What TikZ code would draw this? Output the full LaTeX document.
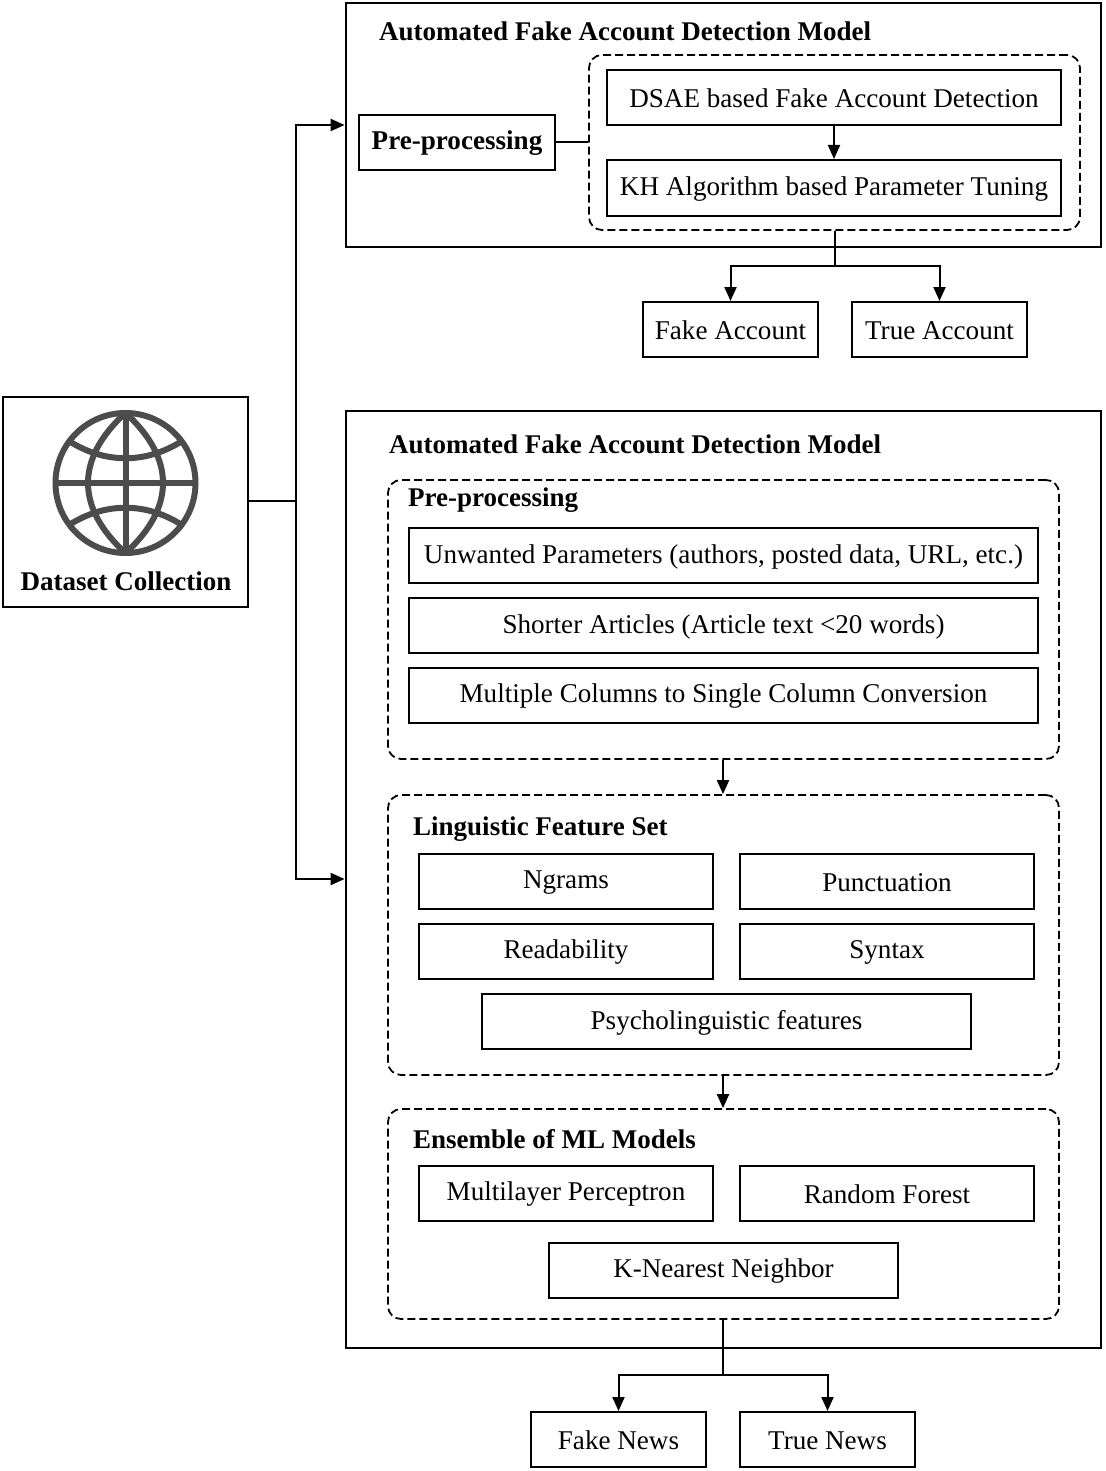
\documentclass[tikz,border=0pt]{standalone}
\usepackage{fontspec}
\setmainfont{Liberation Serif}
\usetikzlibrary{arrows.meta,calc}
\tikzset{
  x=1pt,y=-1pt,
  solidbox/.style={draw=black,line width=2pt,fill=white,inner sep=0pt,align=center,font=\fontsize{27.1}{30}\selectfont},
  outerbox/.style={draw=black,line width=2.8pt,inner sep=0pt},
  dashbox/.style={draw=black,line width=1.8pt,dash pattern=on 8pt off 4pt,rounded corners=13pt,inner sep=0pt},
  title/.style={anchor=west,inner sep=0pt,font=\fontsize{27}{30}\selectfont\bfseries},
  conn/.style={draw=black,line width=2pt},
  arr/.style={conn,-{Triangle[length=14pt,width=12pt]}},
  globeline/.style={draw=black!70,line width=6pt},
}
\newcommand{\bx}[7][solidbox]{%
  \node[#1,minimum width=#5pt-#3pt,minimum height=#6pt-#4pt] (#2) at ({(#3+#5)/2},{(#4+#6)/2}) {\raisebox{-1pt}[\height][\depth]{#7}};}
\begin{document}
\begin{tikzpicture}
\useasboundingbox (0,0) rectangle (1105,1471);
\fill[white] (0,0) rectangle (1105,1471);
% outer frames
\bx[outerbox]{modelA}{346}{3}{1101}{247}{}
\bx[outerbox]{modelB}{346}{411}{1101}{1348}{}
\node[title] (titleA) at (379,31) {Automated Fake Account Detection Model};
\node[title] (titleB) at (389,444) {Automated Fake Account Detection Model};
% dashed groups
\bx[dashbox]{groupA}{589}{55}{1080}{230}{}
\bx[dashbox]{groupP}{388}{480}{1059}{759}{}
\bx[dashbox]{groupL}{388}{795}{1059}{1075}{}
\bx[dashbox]{groupE}{388}{1109}{1059}{1319}{}
\node[title] (titleP) at (408,500) {Pre-processing};
\node[title] (titleL) at (413,829) {Linguistic Feature Set};
\node[title] (titleE) at (413,1139) {Ensemble of ML Models};
% dataset
\bx{data}{3}{397}{248}{607}{}
\node[title,anchor=center] (dataT) at (126,581) {Dataset Collection};
% globe
\begin{scope}[globeline]
  \draw (125.5,483) circle[radius=70];
  \draw (125.5,413) .. controls (100,436) and (88,460) .. (88,483) .. controls (88,506) and (100,530) .. (125.5,553);
  \draw (125.5,413) .. controls (151,436) and (163,460) .. (163,483) .. controls (163,506) and (151,530) .. (125.5,553);
  \draw (55.5,483) -- (195.5,483);
  \draw (125.5,413) -- (125.5,553);
  \draw (69,441) .. controls (105,464) and (146,464) .. (182,441);
  \draw (69,525) .. controls (105,502) and (146,502) .. (182,525);
\end{scope}
% top section
\bx{prepA}{359}{115}{555}{170}{\bfseries Pre-processing}
\bx{dsae}{607}{70}{1061}{125}{DSAE based Fake Account Detection}
\bx{kh}{607}{160}{1061}{216}{KH Algorithm based Parameter Tuning}
\bx{fakeA}{643}{302}{818}{357}{Fake Account}
\bx{trueA}{852}{302}{1027}{357}{True Account}
% preprocessing
\bx{unw}{409}{528}{1038}{583}{Unwanted Parameters (authors, posted data, URL, etc.)}
\bx{short}{409}{598}{1038}{653}{Shorter Articles (Article text <20 words)}
\bx{multi}{409}{668}{1038}{723}{Multiple Columns to Single Column Conversion}
% linguistic
\bx{ngr}{419}{854}{713}{909}{Ngrams}
\bx{punc}{740}{854}{1034}{909}{Punctuation}
\bx{read}{419}{924}{713}{979}{Readability}
\bx{syn}{740}{924}{1034}{979}{Syntax}
\bx{psy}{482}{994}{971}{1049}{Psycholinguistic features}
% ensemble
\bx{mlp}{419}{1166}{713}{1221}{Multilayer Perceptron}
\bx{rf}{740}{1166}{1034}{1221}{Random Forest}
\bx{knn}{549}{1243}{898}{1298}{K-Nearest Neighbor}
% outputs
\bx{fakeN}{531}{1412}{706}{1467}{Fake News}
\bx{trueN}{740}{1412}{915}{1467}{True News}
% connectors
\coordinate (hub) at (296,501);
\coordinate (forkA) at (835,266);
\coordinate (forkB) at (723,1375);
\draw[conn] (data.east |- hub) -- (hub);
\draw[arr] (hub) |- (modelA.west |- 0,125);
\draw[arr] (hub) |- (modelB.west |- 0,879);
\draw[conn] (prepA.east) -- (groupA.west |- prepA.east);
\draw[arr] (dsae.south) -- (kh.north);
\draw[conn] (groupA.south -| forkA) -- (forkA);
\draw[arr] (forkA) -| (fakeA.north);
\draw[arr] (forkA) -| (trueA.north);
\draw[arr] (groupP.south -| 723,0) -- (groupL.north -| 723,0);
\draw[arr] (groupL.south -| 723,0) -- (groupE.north -| 723,0);
\draw[conn] (groupE.south -| forkB) -- (forkB);
\draw[arr] (forkB) -| (fakeN.north);
\draw[arr] (forkB) -| (trueN.north);
\end{tikzpicture}
\end{document}
